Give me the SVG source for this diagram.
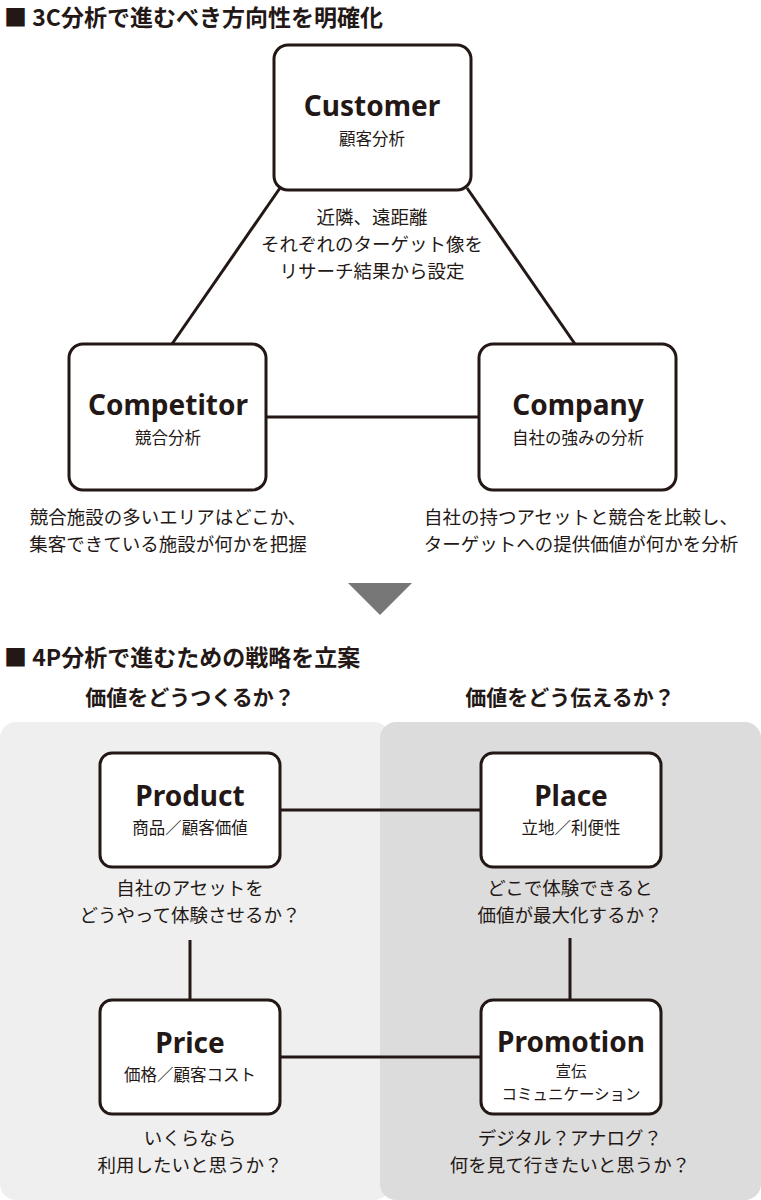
<svg xmlns="http://www.w3.org/2000/svg" width="761" height="1200" viewBox="0 0 761 1200">
<style>
text{font-family:"Noto Sans CJK JP","Noto Sans",sans-serif;fill:#231815;text-anchor:middle}
.h{font-size:23px;font-weight:bold;text-anchor:start}
.q{font-size:21px;font-weight:bold}
.box{fill:#fff;stroke:#231815;stroke-width:3}
.t{font-size:28px;font-weight:bold;font-family:"Noto Sans","Open Sans",sans-serif}
.s{font-size:16.5px}
.s2{font-size:15.5px}
.d{font-size:18.5px}
.c line{stroke:#231815;stroke-width:3}
</style>
<rect width="761" height="1200" fill="#fff"/>
<text class="h" x="4" y="26">■ 3C分析で進むべき方向性を明確化</text>
<g class="c">
<line x1="280" y1="188" x2="172" y2="344"/>
<line x1="467" y1="188" x2="575" y2="344"/>
<line x1="266" y1="417" x2="479" y2="417"/>
</g>
<g id="customer"><rect class="box" x="274" y="45" width="197" height="145" rx="14"/><text class="t" x="372" y="116">Customer</text><text class="s" x="372" y="145">顧客分析</text></g>
<g id="competitor"><rect class="box" x="69" y="344" width="197" height="146" rx="14"/><text class="t" x="168" y="415">Competitor</text><text class="s" x="168" y="444">競合分析</text></g>
<g id="company"><rect class="box" x="479" y="344" width="197" height="146" rx="14"/><text class="t" x="578" y="415">Company</text><text class="s" x="578" y="444">自社の強みの分析</text></g>
<text class="d" x="372" y="224">近隣、遠距離</text>
<text class="d" x="372" y="251">それぞれのターゲット像を</text>
<text class="d" x="372" y="278">リサーチ結果から設定</text>
<text class="d" x="168" y="524">競合施設の多いエリアはどこか、</text>
<text class="d" x="168" y="551">集客できている施設が何かを把握</text>
<text class="d" x="581" y="524">自社の持つアセットと競合を比較し、</text>
<text class="d" x="581" y="551">ターゲットへの提供価値が何かを分析</text>
<polygon points="348,583 412,583 380,615" fill="#777"/>
<text class="h" x="4" y="666">■ 4P分析で進むための戦略を立案</text>
<text class="q" x="190" y="705">価値をどうつくるか？</text>
<text class="q" x="570" y="705">価値をどう伝えるか？</text>
<rect x="0" y="722" width="390" height="478" rx="16" fill="#efefef"/>
<rect x="380" y="722" width="381" height="478" rx="16" fill="#dcdcdc"/>
<g class="c">
<line x1="280" y1="810" x2="481" y2="810"/>
<line x1="190" y1="940" x2="190" y2="1000"/>
<line x1="570" y1="938" x2="570" y2="1000"/>
<line x1="280" y1="1057" x2="481" y2="1057"/>
</g>
<g id="product"><rect class="box" x="100" y="753" width="180" height="114" rx="12"/><text class="t" x="190" y="806">Product</text><text class="s" x="190" y="834">商品／顧客価値</text></g>
<g id="place"><rect class="box" x="481" y="753" width="180" height="114" rx="12"/><text class="t" x="571" y="806">Place</text><text class="s" x="571" y="834">立地／利便性</text></g>
<g id="price"><rect class="box" x="100" y="1000" width="180" height="114" rx="12"/><text class="t" x="190" y="1053">Price</text><text class="s" x="190" y="1081">価格／顧客コスト</text></g>
<g id="promotion"><rect class="box" x="481" y="1000" width="180" height="114" rx="12"/><text class="t" x="571" y="1052">Promotion</text><text class="s2" x="571" y="1077">宣伝</text><text class="s2" x="571" y="1100">コミュニケーション</text></g>
<text class="d" x="190" y="895">自社のアセットを</text>
<text class="d" x="190" y="922">どうやって体験させるか？</text>
<text class="d" x="570" y="895">どこで体験できると</text>
<text class="d" x="570" y="922">価値が最大化するか？</text>
<text class="d" x="190" y="1145">いくらなら</text>
<text class="d" x="190" y="1172">利用したいと思うか？</text>
<text class="d" x="570" y="1145">デジタル？アナログ？</text>
<text class="d" x="570" y="1172">何を見て行きたいと思うか？</text>
</svg>
